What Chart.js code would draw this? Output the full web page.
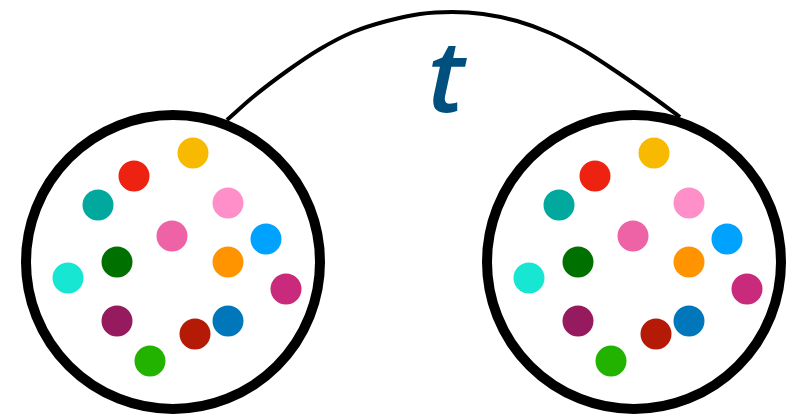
<!DOCTYPE html>
<html>
<head>
<meta charset="utf-8">
<script src="https://cdn.jsdelivr.net/npm/chart.js@4/dist/chart.umd.min.js"></script>
<style>
  html, body { margin: 0; padding: 0; background: #fff; }
  #wrap { width: 798px; height: 415px; }
</style>
</head>
<body>
<div id="wrap"><canvas id="chart"></canvas></div>
<script>
// values (pixel-like units, y grows downward)
const dotColors = ['#f7ba00', '#ee2211', '#00a89e', '#ff8fc8', '#ee62a6', '#00a2ff', '#007000',
  '#ff9400', '#17e6d2', '#c92a7c', '#961a5e', '#0077bb', '#b51a06', '#22b300'];
const leftDotsX = [193, 134, 98, 228, 172, 266, 117, 228, 68, 286, 117, 228, 195, 150];
const leftDotsY = [153, 176, 205, 203, 236, 239, 262, 262, 278, 289, 321, 321, 334, 361];
const rightDotsX = [654, 595, 559, 689, 633, 727, 578, 689, 529, 747, 578, 689, 656, 611];
const rightDotsY = [153, 176, 205, 203, 236, 239, 262, 262, 278, 289, 321, 321, 334, 361];

const ringX = [173, 634];
const ringY = [262, 262];

const arcX = [227, 253, 287, 320, 353, 387, 420, 452, 483, 517, 550, 583, 617, 650, 680];
const arcY = [120, 97, 71, 49, 32, 21, 14, 12, 14, 21, 33, 50, 72, 95, 117];

const labelText = 't';
const labelPos = { x: 446, y: 112 };

function toPoints(xs, ys) {
  return xs.map((x, i) => ({ x, y: ys[i] }));
}

// draws the "t" at a data position
const labelPlugin = {
  id: 'label',
  afterDatasetsDraw(chart) {
    const { ctx, scales } = chart;
    ctx.save();
    ctx.fillStyle = '#00507f';
    ctx.font = 'italic 600 100px "Open Sans"';
    ctx.textAlign = 'center';
    ctx.textBaseline = 'alphabetic';
    ctx.fillText(labelText, scales.x.getPixelForValue(labelPos.x), scales.y.getPixelForValue(labelPos.y));
    ctx.restore();
  },
};

new Chart(document.getElementById('chart'), {
  type: 'scatter',
  data: {
    datasets: [
      {
        data: toPoints(leftDotsX, leftDotsY).concat(toPoints(rightDotsX, rightDotsY)),
        backgroundColor: dotColors.concat(dotColors),
        borderWidth: 0,
        pointRadius: 15.5,
        order: 0,
        clip: false,
      },
      {
        data: toPoints(ringX, ringY),
        backgroundColor: 'rgba(0,0,0,0)',
        borderColor: '#000',
        borderWidth: 10,
        pointRadius: 147,
        order: 1,
        clip: false,
      },
      {
        data: toPoints(arcX, arcY),
        showLine: true,
        borderColor: '#000',
        borderWidth: 4,
        pointRadius: 0,
        cubicInterpolationMode: 'monotone',
        order: 2,
        clip: false,
      },
    ],
  },
  options: {
    responsive: true,
    maintainAspectRatio: false,
    animation: false,
    events: [],
    layout: { padding: 0, autoPadding: false },
    plugins: {
      legend: { display: false },
      tooltip: { enabled: false },
    },
    scales: {
      x: { type: 'linear', min: 0, max: 798, display: false },
      y: { type: 'linear', min: 0, max: 415, reverse: true, display: false },
    },
  },
  plugins: [labelPlugin],
});
</script>
</body>
</html>
